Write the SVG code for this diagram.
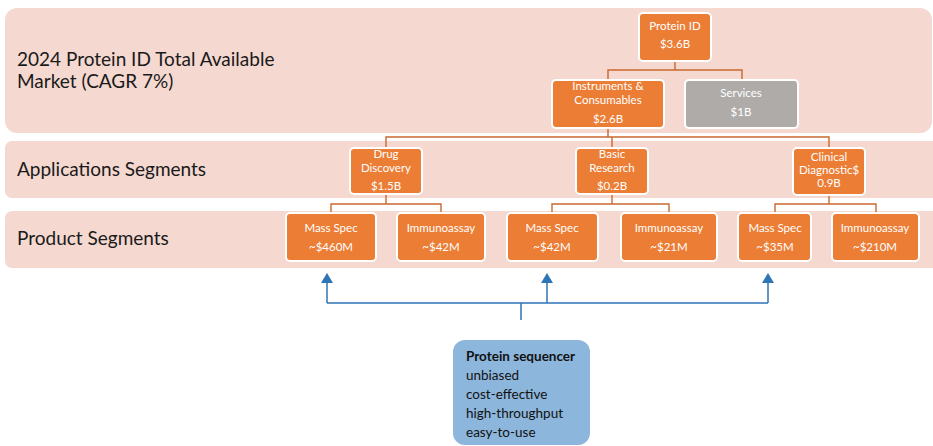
<svg xmlns="http://www.w3.org/2000/svg" width="933" height="446" viewBox="0 0 933 446">
<style>
.band{fill:#F5D8D0;}
.lbl{font-family:Lato,"Liberation Sans",sans-serif;font-size:19px;fill:#1a1a1a;}
.ob{fill:#EC7D35;stroke:#ffffff;stroke-width:2;}
.gb{fill:#AFABA9;stroke:#ffffff;stroke-width:2;}
.bt{font-family:Lato,"Liberation Sans",sans-serif;font-size:11.5px;fill:#ffffff;text-anchor:middle;}
.con{fill:none;stroke:#C9682E;stroke-width:1.4;}
.blue{fill:none;stroke:#2E75B6;stroke-width:1.5;}
.st{font-family:Lato,"Liberation Sans",sans-serif;font-size:13.5px;fill:#111;}
</style>
<defs>
<marker id="ah" viewBox="0 0 10 12" refX="1" refY="6" markerWidth="10" markerHeight="12" markerUnits="userSpaceOnUse" orient="auto">
<path d="M0,0 L10,6 L0,12 Z" fill="#2E75B6"/>
</marker>
</defs>
<g id="bands">
<rect class="band" x="5" y="8" width="927" height="125" rx="12"/>
<rect class="band" x="5" y="141" width="935" height="57" rx="7"/>
<rect class="band" x="5" y="211" width="935" height="57" rx="7"/>
<text class="lbl" x="17" y="66">2024 Protein ID Total Available</text>
<text class="lbl" x="17" y="88">Market (CAGR 7%)</text>
<text class="lbl" x="17" y="176">Applications Segments</text>
<text class="lbl" x="17" y="245">Product Segments</text>
</g>
<g id="connectors">
<path class="con" d="M675,61 V70 M608,80 V70 H742 V80"/>
<path class="con" d="M608,128 V137 M386,148 V137 H829 V148 M612,137 V148"/>
<path class="con" d="M386,194 V204 M331,214 V204 H441 V214"/>
<path class="con" d="M612,194 V204 M552,214 V204 H669 V214"/>
<path class="con" d="M829,195 V204 M775,214 V204 H876 V214"/>
<path class="blue" d="M521,320 V303 M327,303 H768"/>
<path class="blue" d="M327,303 V282" marker-end="url(#ah)"/>
<path class="blue" d="M547,303 V282" marker-end="url(#ah)"/>
<path class="blue" d="M768,303 V282" marker-end="url(#ah)"/>
</g>
<g id="protein-id">
<rect class="ob" x="639" y="13" width="72" height="48" rx="4"/>
<text class="bt" x="675" y="30">Protein ID</text>
<text class="bt" x="675" y="48">$3.6B</text>
</g>
<g id="instruments">
<rect class="ob" x="552" y="80" width="112" height="48" rx="4"/>
<text class="bt" x="608" y="90">Instruments &amp;</text>
<text class="bt" x="608" y="104">Consumables</text>
<text class="bt" x="608" y="123">$2.6B</text>
</g>
<g id="services">
<rect class="gb" x="685" y="80" width="113" height="48" rx="4"/>
<text class="bt" x="741" y="97">Services</text>
<text class="bt" x="741" y="116">$1B</text>
</g>
<g id="drug-discovery">
<rect class="ob" x="350" y="148" width="72" height="46" rx="4"/>
<text class="bt" x="386" y="158">Drug</text>
<text class="bt" x="386" y="172">Discovery</text>
<text class="bt" x="386" y="190">$1.5B</text>
</g>
<g id="basic-research">
<rect class="ob" x="576" y="148" width="72" height="46" rx="4"/>
<text class="bt" x="612" y="158">Basic</text>
<text class="bt" x="612" y="172">Research</text>
<text class="bt" x="612" y="190">$0.2B</text>
</g>
<g id="clinical">
<rect class="ob" x="793" y="148" width="72" height="47" rx="4"/>
<text class="bt" x="829" y="161">Clinical</text>
<text class="bt" x="829" y="174">Diagnostic$</text>
<text class="bt" x="829" y="187">0.9B</text>
</g>
<g id="ms1">
<rect class="ob" x="286" y="213" width="90" height="48" rx="4"/>
<text class="bt" x="331" y="232">Mass Spec</text>
<text class="bt" x="331" y="251">~$460M</text>
</g>
<g id="imm1">
<rect class="ob" x="397" y="213" width="88" height="48" rx="4"/>
<text class="bt" x="441" y="232">Immunoassay</text>
<text class="bt" x="441" y="251">~$42M</text>
</g>
<g id="ms2">
<rect class="ob" x="507" y="213" width="91" height="48" rx="4"/>
<text class="bt" x="552" y="232">Mass Spec</text>
<text class="bt" x="552" y="251">~$42M</text>
</g>
<g id="imm2">
<rect class="ob" x="621" y="213" width="96" height="48" rx="4"/>
<text class="bt" x="669" y="232">Immunoassay</text>
<text class="bt" x="669" y="251">~$21M</text>
</g>
<g id="ms3">
<rect class="ob" x="738" y="213" width="73" height="48" rx="4"/>
<text class="bt" x="775" y="232">Mass Spec</text>
<text class="bt" x="775" y="251">~$35M</text>
</g>
<g id="imm3">
<rect class="ob" x="832" y="213" width="87" height="48" rx="4"/>
<text class="bt" x="875" y="232">Immunoassay</text>
<text class="bt" x="875" y="251">~$210M</text>
</g>
<g id="protein-sequencer">
<rect x="453" y="340" width="137" height="105" rx="12" fill="#8CB6DB"/>
<text class="st" x="466" y="361" font-weight="bold">Protein sequencer</text>
<text class="st" x="466" y="380">unbiased</text>
<text class="st" x="466" y="399">cost-effective</text>
<text class="st" x="466" y="418">high-throughput</text>
<text class="st" x="466" y="437">easy-to-use</text>
</g>
</svg>
